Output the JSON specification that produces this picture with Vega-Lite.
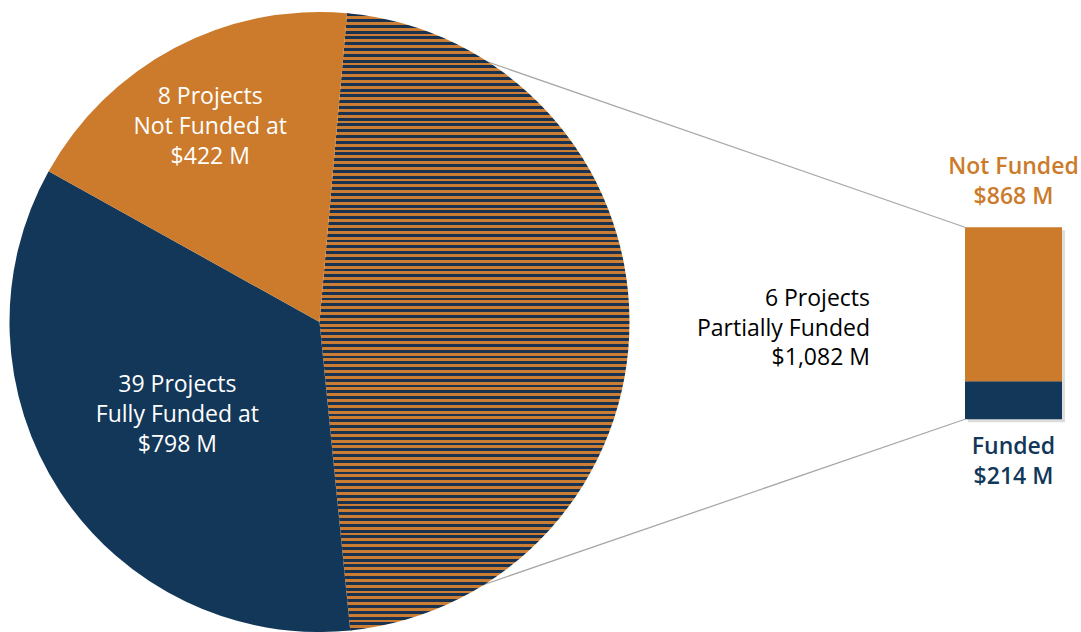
{
  "$schema": "https://vega.github.io/schema/vega-lite/v6.json",
  "width": 1081,
  "height": 620,
  "padding": {"top": 12, "left": 0, "right": 0, "bottom": 0},
  "autosize": {"type": "none"},
  "background": "white",
  "config": {"view": {"stroke": null}, "font": "Open Sans"},
  "datasets": {
    "projects": [
      {"view": "All projects", "status": "Partially Funded", "projects": 6, "amount": 1082, "rank": 1, "label": "6 Projects\nPartially Funded\n$1,082 M"},
      {"view": "All projects", "status": "Fully Funded", "projects": 39, "amount": 798, "rank": 2, "label": "39 Projects\nFully Funded at\n$798 M"},
      {"view": "All projects", "status": "Not Funded", "projects": 8, "amount": 422, "rank": 3, "label": "8 Projects\nNot Funded at\n$422 M"}
    ],
    "partial": [
      {"view": "Partially funded projects", "part": "Funded", "amount": 214, "rank": 1, "label": "Funded\n$214 M"},
      {"view": "Partially funded projects", "part": "Not Funded", "amount": 868, "rank": 2, "label": "Not Funded\n$868 M"}
    ],
    "connectors": [
      {"from": "All projects", "to": "Partially funded projects", "edge": "upper"},
      {"from": "All projects", "to": "Partially funded projects", "edge": "lower"}
    ]
  },
  "layer": [
    {
      "data": {"name": "connectors"},
      "transform": [{"filter": "datum.edge === 'upper'"}],
      "mark": {"type": "rule", "stroke": "#a8a8a8", "strokeWidth": 1.3, "xOffset": 27.6, "x2Offset": -48.5},
      "encoding": {
        "x": {"field": "from", "type": "nominal", "scale": {"type": "point", "domain": ["All projects", "Partially funded projects"], "range": [319.5, 1013.5], "padding": 0}, "axis": null},
        "x2": {"field": "to"},
        "y": {"datum": 2288, "type": "quantitative", "scale": {"domain": [-1199, 2295], "nice": false, "zero": false}, "axis": null},
        "y2": {"datum": 1082}
      }
    },
    {
      "data": {"name": "connectors"},
      "transform": [{"filter": "datum.edge === 'lower'"}],
      "mark": {"type": "rule", "stroke": "#a8a8a8", "strokeWidth": 1.3, "xOffset": 30.8, "x2Offset": -48.5},
      "encoding": {
        "x": {"field": "from", "type": "nominal"},
        "x2": {"field": "to"},
        "y": {"datum": -1190.5, "type": "quantitative"},
        "y2": {"datum": 0}
      }
    },
    {
      "data": {"name": "projects"},
      "mark": {"type": "arc", "outerRadius": 310},
      "encoding": {
        "x": {"field": "view", "type": "nominal"},
        "theta": {"field": "amount", "type": "quantitative", "stack": true, "scale": {"range": [0.089, 6.3722]}},
        "order": {"field": "rank", "type": "quantitative"},
        "fill": {
          "condition": {
            "test": "datum.status === 'Partially Funded'",
            "value": {
              "gradient": "linear", "x1": 0, "y1": 0, "x2": 0, "y2": 1,
              "stops": [
{"offset":0,"color":"#18324f"},
{"offset":0.0047,"color":"#18324f"},{"offset":0.0047,"color":"#cb7e33"},
{"offset":0.0094,"color":"#cb7e33"},{"offset":0.0094,"color":"#18324f"},
{"offset":0.0141,"color":"#18324f"},{"offset":0.0141,"color":"#cb7e33"},
{"offset":0.0188,"color":"#cb7e33"},{"offset":0.0188,"color":"#18324f"},
{"offset":0.0235,"color":"#18324f"},{"offset":0.0235,"color":"#cb7e33"},
{"offset":0.0282,"color":"#cb7e33"},{"offset":0.0282,"color":"#18324f"},
{"offset":0.0329,"color":"#18324f"},{"offset":0.0329,"color":"#cb7e33"},
{"offset":0.0376,"color":"#cb7e33"},{"offset":0.0376,"color":"#18324f"},
{"offset":0.0423,"color":"#18324f"},{"offset":0.0423,"color":"#cb7e33"},
{"offset":0.047,"color":"#cb7e33"},{"offset":0.047,"color":"#18324f"},
{"offset":0.0517,"color":"#18324f"},{"offset":0.0517,"color":"#cb7e33"},
{"offset":0.0564,"color":"#cb7e33"},{"offset":0.0564,"color":"#18324f"},
{"offset":0.0611,"color":"#18324f"},{"offset":0.0611,"color":"#cb7e33"},
{"offset":0.0658,"color":"#cb7e33"},{"offset":0.0658,"color":"#18324f"},
{"offset":0.0705,"color":"#18324f"},{"offset":0.0705,"color":"#cb7e33"},
{"offset":0.0752,"color":"#cb7e33"},{"offset":0.0752,"color":"#18324f"},
{"offset":0.0799,"color":"#18324f"},{"offset":0.0799,"color":"#cb7e33"},
{"offset":0.0846,"color":"#cb7e33"},{"offset":0.0846,"color":"#18324f"},
{"offset":0.0893,"color":"#18324f"},{"offset":0.0893,"color":"#cb7e33"},
{"offset":0.094,"color":"#cb7e33"},{"offset":0.094,"color":"#18324f"},
{"offset":0.0987,"color":"#18324f"},{"offset":0.0987,"color":"#cb7e33"},
{"offset":0.1034,"color":"#cb7e33"},{"offset":0.1034,"color":"#18324f"},
{"offset":0.1081,"color":"#18324f"},{"offset":0.1081,"color":"#cb7e33"},
{"offset":0.1128,"color":"#cb7e33"},{"offset":0.1128,"color":"#18324f"},
{"offset":0.1175,"color":"#18324f"},{"offset":0.1175,"color":"#cb7e33"},
{"offset":0.1222,"color":"#cb7e33"},{"offset":0.1222,"color":"#18324f"},
{"offset":0.1269,"color":"#18324f"},{"offset":0.1269,"color":"#cb7e33"},
{"offset":0.1316,"color":"#cb7e33"},{"offset":0.1316,"color":"#18324f"},
{"offset":0.1363,"color":"#18324f"},{"offset":0.1363,"color":"#cb7e33"},
{"offset":0.141,"color":"#cb7e33"},{"offset":0.141,"color":"#18324f"},
{"offset":0.1457,"color":"#18324f"},{"offset":0.1457,"color":"#cb7e33"},
{"offset":0.1504,"color":"#cb7e33"},{"offset":0.1504,"color":"#18324f"},
{"offset":0.1551,"color":"#18324f"},{"offset":0.1551,"color":"#cb7e33"},
{"offset":0.1598,"color":"#cb7e33"},{"offset":0.1598,"color":"#18324f"},
{"offset":0.1645,"color":"#18324f"},{"offset":0.1645,"color":"#cb7e33"},
{"offset":0.1692,"color":"#cb7e33"},{"offset":0.1692,"color":"#18324f"},
{"offset":0.1739,"color":"#18324f"},{"offset":0.1739,"color":"#cb7e33"},
{"offset":0.1786,"color":"#cb7e33"},{"offset":0.1786,"color":"#18324f"},
{"offset":0.1833,"color":"#18324f"},{"offset":0.1833,"color":"#cb7e33"},
{"offset":0.188,"color":"#cb7e33"},{"offset":0.188,"color":"#18324f"},
{"offset":0.1927,"color":"#18324f"},{"offset":0.1927,"color":"#cb7e33"},
{"offset":0.1974,"color":"#cb7e33"},{"offset":0.1974,"color":"#18324f"},
{"offset":0.2021,"color":"#18324f"},{"offset":0.2021,"color":"#cb7e33"},
{"offset":0.2068,"color":"#cb7e33"},{"offset":0.2068,"color":"#18324f"},
{"offset":0.2115,"color":"#18324f"},{"offset":0.2115,"color":"#cb7e33"},
{"offset":0.2162,"color":"#cb7e33"},{"offset":0.2162,"color":"#18324f"},
{"offset":0.2209,"color":"#18324f"},{"offset":0.2209,"color":"#cb7e33"},
{"offset":0.2256,"color":"#cb7e33"},{"offset":0.2256,"color":"#18324f"},
{"offset":0.2303,"color":"#18324f"},{"offset":0.2303,"color":"#cb7e33"},
{"offset":0.235,"color":"#cb7e33"},{"offset":0.235,"color":"#18324f"},
{"offset":0.2397,"color":"#18324f"},{"offset":0.2397,"color":"#cb7e33"},
{"offset":0.2444,"color":"#cb7e33"},{"offset":0.2444,"color":"#18324f"},
{"offset":0.2491,"color":"#18324f"},{"offset":0.2491,"color":"#cb7e33"},
{"offset":0.2538,"color":"#cb7e33"},{"offset":0.2538,"color":"#18324f"},
{"offset":0.2585,"color":"#18324f"},{"offset":0.2585,"color":"#cb7e33"},
{"offset":0.2632,"color":"#cb7e33"},{"offset":0.2632,"color":"#18324f"},
{"offset":0.2679,"color":"#18324f"},{"offset":0.2679,"color":"#cb7e33"},
{"offset":0.2726,"color":"#cb7e33"},{"offset":0.2726,"color":"#18324f"},
{"offset":0.2773,"color":"#18324f"},{"offset":0.2773,"color":"#cb7e33"},
{"offset":0.282,"color":"#cb7e33"},{"offset":0.282,"color":"#18324f"},
{"offset":0.2867,"color":"#18324f"},{"offset":0.2867,"color":"#cb7e33"},
{"offset":0.2914,"color":"#cb7e33"},{"offset":0.2914,"color":"#18324f"},
{"offset":0.2961,"color":"#18324f"},{"offset":0.2961,"color":"#cb7e33"},
{"offset":0.3008,"color":"#cb7e33"},{"offset":0.3008,"color":"#18324f"},
{"offset":0.3055,"color":"#18324f"},{"offset":0.3055,"color":"#cb7e33"},
{"offset":0.3102,"color":"#cb7e33"},{"offset":0.3102,"color":"#18324f"},
{"offset":0.3149,"color":"#18324f"},{"offset":0.3149,"color":"#cb7e33"},
{"offset":0.3196,"color":"#cb7e33"},{"offset":0.3196,"color":"#18324f"},
{"offset":0.3243,"color":"#18324f"},{"offset":0.3243,"color":"#cb7e33"},
{"offset":0.329,"color":"#cb7e33"},{"offset":0.329,"color":"#18324f"},
{"offset":0.3337,"color":"#18324f"},{"offset":0.3337,"color":"#cb7e33"},
{"offset":0.3384,"color":"#cb7e33"},{"offset":0.3384,"color":"#18324f"},
{"offset":0.3431,"color":"#18324f"},{"offset":0.3431,"color":"#cb7e33"},
{"offset":0.3478,"color":"#cb7e33"},{"offset":0.3478,"color":"#18324f"},
{"offset":0.3525,"color":"#18324f"},{"offset":0.3525,"color":"#cb7e33"},
{"offset":0.3572,"color":"#cb7e33"},{"offset":0.3572,"color":"#18324f"},
{"offset":0.3619,"color":"#18324f"},{"offset":0.3619,"color":"#cb7e33"},
{"offset":0.3666,"color":"#cb7e33"},{"offset":0.3666,"color":"#18324f"},
{"offset":0.3713,"color":"#18324f"},{"offset":0.3713,"color":"#cb7e33"},
{"offset":0.376,"color":"#cb7e33"},{"offset":0.376,"color":"#18324f"},
{"offset":0.3807,"color":"#18324f"},{"offset":0.3807,"color":"#cb7e33"},
{"offset":0.3854,"color":"#cb7e33"},{"offset":0.3854,"color":"#18324f"},
{"offset":0.3901,"color":"#18324f"},{"offset":0.3901,"color":"#cb7e33"},
{"offset":0.3948,"color":"#cb7e33"},{"offset":0.3948,"color":"#18324f"},
{"offset":0.3995,"color":"#18324f"},{"offset":0.3995,"color":"#cb7e33"},
{"offset":0.4042,"color":"#cb7e33"},{"offset":0.4042,"color":"#18324f"},
{"offset":0.4089,"color":"#18324f"},{"offset":0.4089,"color":"#cb7e33"},
{"offset":0.4136,"color":"#cb7e33"},{"offset":0.4136,"color":"#18324f"},
{"offset":0.4183,"color":"#18324f"},{"offset":0.4183,"color":"#cb7e33"},
{"offset":0.423,"color":"#cb7e33"},{"offset":0.423,"color":"#18324f"},
{"offset":0.4277,"color":"#18324f"},{"offset":0.4277,"color":"#cb7e33"},
{"offset":0.4324,"color":"#cb7e33"},{"offset":0.4324,"color":"#18324f"},
{"offset":0.4371,"color":"#18324f"},{"offset":0.4371,"color":"#cb7e33"},
{"offset":0.4418,"color":"#cb7e33"},{"offset":0.4418,"color":"#18324f"},
{"offset":0.4465,"color":"#18324f"},{"offset":0.4465,"color":"#cb7e33"},
{"offset":0.4512,"color":"#cb7e33"},{"offset":0.4512,"color":"#18324f"},
{"offset":0.4559,"color":"#18324f"},{"offset":0.4559,"color":"#cb7e33"},
{"offset":0.4606,"color":"#cb7e33"},{"offset":0.4606,"color":"#18324f"},
{"offset":0.4653,"color":"#18324f"},{"offset":0.4653,"color":"#cb7e33"},
{"offset":0.47,"color":"#cb7e33"},{"offset":0.47,"color":"#18324f"},
{"offset":0.4747,"color":"#18324f"},{"offset":0.4747,"color":"#cb7e33"},
{"offset":0.4794,"color":"#cb7e33"},{"offset":0.4794,"color":"#18324f"},
{"offset":0.4841,"color":"#18324f"},{"offset":0.4841,"color":"#cb7e33"},
{"offset":0.4888,"color":"#cb7e33"},{"offset":0.4888,"color":"#18324f"},
{"offset":0.4935,"color":"#18324f"},{"offset":0.4935,"color":"#cb7e33"},
{"offset":0.4982,"color":"#cb7e33"},{"offset":0.4982,"color":"#18324f"},
{"offset":0.5029,"color":"#18324f"},{"offset":0.5029,"color":"#cb7e33"},
{"offset":0.5076,"color":"#cb7e33"},{"offset":0.5076,"color":"#18324f"},
{"offset":0.5123,"color":"#18324f"},{"offset":0.5123,"color":"#cb7e33"},
{"offset":0.517,"color":"#cb7e33"},{"offset":0.517,"color":"#18324f"},
{"offset":0.5217,"color":"#18324f"},{"offset":0.5217,"color":"#cb7e33"},
{"offset":0.5264,"color":"#cb7e33"},{"offset":0.5264,"color":"#18324f"},
{"offset":0.5311,"color":"#18324f"},{"offset":0.5311,"color":"#cb7e33"},
{"offset":0.5358,"color":"#cb7e33"},{"offset":0.5358,"color":"#18324f"},
{"offset":0.5405,"color":"#18324f"},{"offset":0.5405,"color":"#cb7e33"},
{"offset":0.5452,"color":"#cb7e33"},{"offset":0.5452,"color":"#18324f"},
{"offset":0.5499,"color":"#18324f"},{"offset":0.5499,"color":"#cb7e33"},
{"offset":0.5546,"color":"#cb7e33"},{"offset":0.5546,"color":"#18324f"},
{"offset":0.5593,"color":"#18324f"},{"offset":0.5593,"color":"#cb7e33"},
{"offset":0.564,"color":"#cb7e33"},{"offset":0.564,"color":"#18324f"},
{"offset":0.5687,"color":"#18324f"},{"offset":0.5687,"color":"#cb7e33"},
{"offset":0.5734,"color":"#cb7e33"},{"offset":0.5734,"color":"#18324f"},
{"offset":0.5781,"color":"#18324f"},{"offset":0.5781,"color":"#cb7e33"},
{"offset":0.5828,"color":"#cb7e33"},{"offset":0.5828,"color":"#18324f"},
{"offset":0.5875,"color":"#18324f"},{"offset":0.5875,"color":"#cb7e33"},
{"offset":0.5922,"color":"#cb7e33"},{"offset":0.5922,"color":"#18324f"},
{"offset":0.5969,"color":"#18324f"},{"offset":0.5969,"color":"#cb7e33"},
{"offset":0.6016,"color":"#cb7e33"},{"offset":0.6016,"color":"#18324f"},
{"offset":0.6063,"color":"#18324f"},{"offset":0.6063,"color":"#cb7e33"},
{"offset":0.611,"color":"#cb7e33"},{"offset":0.611,"color":"#18324f"},
{"offset":0.6157,"color":"#18324f"},{"offset":0.6157,"color":"#cb7e33"},
{"offset":0.6204,"color":"#cb7e33"},{"offset":0.6204,"color":"#18324f"},
{"offset":0.6251,"color":"#18324f"},{"offset":0.6251,"color":"#cb7e33"},
{"offset":0.6298,"color":"#cb7e33"},{"offset":0.6298,"color":"#18324f"},
{"offset":0.6345,"color":"#18324f"},{"offset":0.6345,"color":"#cb7e33"},
{"offset":0.6392,"color":"#cb7e33"},{"offset":0.6392,"color":"#18324f"},
{"offset":0.6439,"color":"#18324f"},{"offset":0.6439,"color":"#cb7e33"},
{"offset":0.6486,"color":"#cb7e33"},{"offset":0.6486,"color":"#18324f"},
{"offset":0.6533,"color":"#18324f"},{"offset":0.6533,"color":"#cb7e33"},
{"offset":0.658,"color":"#cb7e33"},{"offset":0.658,"color":"#18324f"},
{"offset":0.6627,"color":"#18324f"},{"offset":0.6627,"color":"#cb7e33"},
{"offset":0.6674,"color":"#cb7e33"},{"offset":0.6674,"color":"#18324f"},
{"offset":0.6721,"color":"#18324f"},{"offset":0.6721,"color":"#cb7e33"},
{"offset":0.6768,"color":"#cb7e33"},{"offset":0.6768,"color":"#18324f"},
{"offset":0.6815,"color":"#18324f"},{"offset":0.6815,"color":"#cb7e33"},
{"offset":0.6862,"color":"#cb7e33"},{"offset":0.6862,"color":"#18324f"},
{"offset":0.6909,"color":"#18324f"},{"offset":0.6909,"color":"#cb7e33"},
{"offset":0.6956,"color":"#cb7e33"},{"offset":0.6956,"color":"#18324f"},
{"offset":0.7003,"color":"#18324f"},{"offset":0.7003,"color":"#cb7e33"},
{"offset":0.705,"color":"#cb7e33"},{"offset":0.705,"color":"#18324f"},
{"offset":0.7097,"color":"#18324f"},{"offset":0.7097,"color":"#cb7e33"},
{"offset":0.7144,"color":"#cb7e33"},{"offset":0.7144,"color":"#18324f"},
{"offset":0.7191,"color":"#18324f"},{"offset":0.7191,"color":"#cb7e33"},
{"offset":0.7238,"color":"#cb7e33"},{"offset":0.7238,"color":"#18324f"},
{"offset":0.7285,"color":"#18324f"},{"offset":0.7285,"color":"#cb7e33"},
{"offset":0.7332,"color":"#cb7e33"},{"offset":0.7332,"color":"#18324f"},
{"offset":0.7379,"color":"#18324f"},{"offset":0.7379,"color":"#cb7e33"},
{"offset":0.7426,"color":"#cb7e33"},{"offset":0.7426,"color":"#18324f"},
{"offset":0.7473,"color":"#18324f"},{"offset":0.7473,"color":"#cb7e33"},
{"offset":0.752,"color":"#cb7e33"},{"offset":0.752,"color":"#18324f"},
{"offset":0.7567,"color":"#18324f"},{"offset":0.7567,"color":"#cb7e33"},
{"offset":0.7614,"color":"#cb7e33"},{"offset":0.7614,"color":"#18324f"},
{"offset":0.7661,"color":"#18324f"},{"offset":0.7661,"color":"#cb7e33"},
{"offset":0.7708,"color":"#cb7e33"},{"offset":0.7708,"color":"#18324f"},
{"offset":0.7755,"color":"#18324f"},{"offset":0.7755,"color":"#cb7e33"},
{"offset":0.7802,"color":"#cb7e33"},{"offset":0.7802,"color":"#18324f"},
{"offset":0.7849,"color":"#18324f"},{"offset":0.7849,"color":"#cb7e33"},
{"offset":0.7896,"color":"#cb7e33"},{"offset":0.7896,"color":"#18324f"},
{"offset":0.7943,"color":"#18324f"},{"offset":0.7943,"color":"#cb7e33"},
{"offset":0.799,"color":"#cb7e33"},{"offset":0.799,"color":"#18324f"},
{"offset":0.8037,"color":"#18324f"},{"offset":0.8037,"color":"#cb7e33"},
{"offset":0.8084,"color":"#cb7e33"},{"offset":0.8084,"color":"#18324f"},
{"offset":0.8131,"color":"#18324f"},{"offset":0.8131,"color":"#cb7e33"},
{"offset":0.8178,"color":"#cb7e33"},{"offset":0.8178,"color":"#18324f"},
{"offset":0.8225,"color":"#18324f"},{"offset":0.8225,"color":"#cb7e33"},
{"offset":0.8272,"color":"#cb7e33"},{"offset":0.8272,"color":"#18324f"},
{"offset":0.8319,"color":"#18324f"},{"offset":0.8319,"color":"#cb7e33"},
{"offset":0.8366,"color":"#cb7e33"},{"offset":0.8366,"color":"#18324f"},
{"offset":0.8413,"color":"#18324f"},{"offset":0.8413,"color":"#cb7e33"},
{"offset":0.846,"color":"#cb7e33"},{"offset":0.846,"color":"#18324f"},
{"offset":0.8507,"color":"#18324f"},{"offset":0.8507,"color":"#cb7e33"},
{"offset":0.8554,"color":"#cb7e33"},{"offset":0.8554,"color":"#18324f"},
{"offset":0.8601,"color":"#18324f"},{"offset":0.8601,"color":"#cb7e33"},
{"offset":0.8648,"color":"#cb7e33"},{"offset":0.8648,"color":"#18324f"},
{"offset":0.8695,"color":"#18324f"},{"offset":0.8695,"color":"#cb7e33"},
{"offset":0.8742,"color":"#cb7e33"},{"offset":0.8742,"color":"#18324f"},
{"offset":0.8789,"color":"#18324f"},{"offset":0.8789,"color":"#cb7e33"},
{"offset":0.8836,"color":"#cb7e33"},{"offset":0.8836,"color":"#18324f"},
{"offset":0.8883,"color":"#18324f"},{"offset":0.8883,"color":"#cb7e33"},
{"offset":0.893,"color":"#cb7e33"},{"offset":0.893,"color":"#18324f"},
{"offset":0.8977,"color":"#18324f"},{"offset":0.8977,"color":"#cb7e33"},
{"offset":0.9024,"color":"#cb7e33"},{"offset":0.9024,"color":"#18324f"},
{"offset":0.9071,"color":"#18324f"},{"offset":0.9071,"color":"#cb7e33"},
{"offset":0.9118,"color":"#cb7e33"},{"offset":0.9118,"color":"#18324f"},
{"offset":0.9165,"color":"#18324f"},{"offset":0.9165,"color":"#cb7e33"},
{"offset":0.9212,"color":"#cb7e33"},{"offset":0.9212,"color":"#18324f"},
{"offset":0.9259,"color":"#18324f"},{"offset":0.9259,"color":"#cb7e33"},
{"offset":0.9306,"color":"#cb7e33"},{"offset":0.9306,"color":"#18324f"},
{"offset":0.9353,"color":"#18324f"},{"offset":0.9353,"color":"#cb7e33"},
{"offset":0.94,"color":"#cb7e33"},{"offset":0.94,"color":"#18324f"},
{"offset":0.9447,"color":"#18324f"},{"offset":0.9447,"color":"#cb7e33"},
{"offset":0.9494,"color":"#cb7e33"},{"offset":0.9494,"color":"#18324f"},
{"offset":0.9541,"color":"#18324f"},{"offset":0.9541,"color":"#cb7e33"},
{"offset":0.9588,"color":"#cb7e33"},{"offset":0.9588,"color":"#18324f"},
{"offset":0.9635,"color":"#18324f"},{"offset":0.9635,"color":"#cb7e33"},
{"offset":0.9682,"color":"#cb7e33"},{"offset":0.9682,"color":"#18324f"},
{"offset":0.9729,"color":"#18324f"},{"offset":0.9729,"color":"#cb7e33"},
{"offset":0.9776,"color":"#cb7e33"},{"offset":0.9776,"color":"#18324f"},
{"offset":0.9823,"color":"#18324f"},{"offset":0.9823,"color":"#cb7e33"},
{"offset":0.987,"color":"#cb7e33"},{"offset":0.987,"color":"#18324f"},
{"offset":0.9917,"color":"#18324f"},{"offset":0.9917,"color":"#cb7e33"},
{"offset":0.9964,"color":"#cb7e33"},{"offset":0.9964,"color":"#18324f"},
{"offset":1,"color":"#18324f"}
              ]
            }
          },
          "field": "status",
          "type": "nominal",
          "scale": {"domain": ["Partially Funded", "Fully Funded", "Not Funded", "Funded"], "range": ["#74593f", "#133759", "#cb7b2b", "#133759"]},
          "legend": null
        }
      }
    },
    {
      "data": {"name": "projects"},
      "mark": {"type": "text", "radius": 225, "fontSize": 23, "lineBreak": "\n", "lineHeight": 30, "align": "center", "baseline": "middle", "fill": "white", "dx": -4, "dy": -26},
      "encoding": {
        "x": {"field": "view", "type": "nominal"},
        "theta": {"field": "amount", "type": "quantitative", "stack": true},
        "order": {"field": "rank", "type": "quantitative"},
        "text": {"condition": {"test": "datum.status === 'Not Funded'", "field": "label", "type": "nominal"}, "value": ""}
      }
    },
    {
      "data": {"name": "projects"},
      "mark": {"type": "text", "radius": 170, "fontSize": 23, "lineBreak": "\n", "lineHeight": 30, "align": "center", "baseline": "middle", "fill": "white", "dy": -30},
      "encoding": {
        "x": {"field": "view", "type": "nominal"},
        "theta": {"field": "amount", "type": "quantitative", "stack": true},
        "order": {"field": "rank", "type": "quantitative"},
        "text": {"condition": {"test": "datum.status === 'Fully Funded'", "field": "label", "type": "nominal"}, "value": ""}
      }
    },
    {
      "data": {"name": "projects"},
      "mark": {"type": "text", "radius": 550.5, "fontSize": 23, "lineBreak": "\n", "lineHeight": 29.5, "align": "right", "baseline": "middle", "fill": "black", "dy": -20},
      "encoding": {
        "x": {"field": "view", "type": "nominal"},
        "theta": {"field": "amount", "type": "quantitative", "stack": true},
        "order": {"field": "rank", "type": "quantitative"},
        "text": {"condition": {"test": "datum.status === 'Partially Funded'", "field": "label", "type": "nominal"}, "value": ""}
      }
    },
    {
      "data": {"name": "partial"},
      "mark": {"type": "bar", "size": 97, "color": "#cfcfcf", "opacity": 0.7, "xOffset": 3, "yOffset": 3},
      "encoding": {
        "x": {"field": "view", "type": "nominal"},
        "y": {"field": "amount", "type": "quantitative", "stack": "zero"},
        "order": {"field": "rank", "type": "quantitative"},
        "detail": {"field": "part", "type": "nominal"}
      }
    },
    {
      "data": {"name": "partial"},
      "mark": {"type": "bar", "size": 97},
      "encoding": {
        "x": {"field": "view", "type": "nominal"},
        "y": {"field": "amount", "type": "quantitative", "stack": "zero"},
        "order": {"field": "rank", "type": "quantitative"},
        "fill": {"field": "part", "type": "nominal", "legend": null}
      }
    },
    {
      "data": {"name": "partial"},
      "transform": [
        {"joinaggregate": [{"op": "sum", "field": "amount", "as": "total"}]},
        {"filter": "datum.part === 'Not Funded'"}
      ],
      "mark": {"type": "text", "fontSize": 23, "fontWeight": 600, "lineBreak": "\n", "lineHeight": 30, "align": "center", "baseline": "middle", "fill": "#cb7b2b", "dy": -60},
      "encoding": {
        "x": {"field": "view", "type": "nominal"},
        "y": {"field": "total", "type": "quantitative"},
        "text": {"field": "label", "type": "nominal"}
      }
    },
    {
      "data": {"name": "partial"},
      "transform": [{"filter": "datum.part === 'Funded'"}],
      "mark": {"type": "text", "fontSize": 23, "fontWeight": 600, "lineBreak": "\n", "lineHeight": 30, "align": "center", "baseline": "middle", "fill": "#133759", "dy": 28},
      "encoding": {
        "x": {"field": "view", "type": "nominal"},
        "y": {"datum": 0, "type": "quantitative"},
        "text": {"field": "label", "type": "nominal"}
      }
    }
  ]
}
